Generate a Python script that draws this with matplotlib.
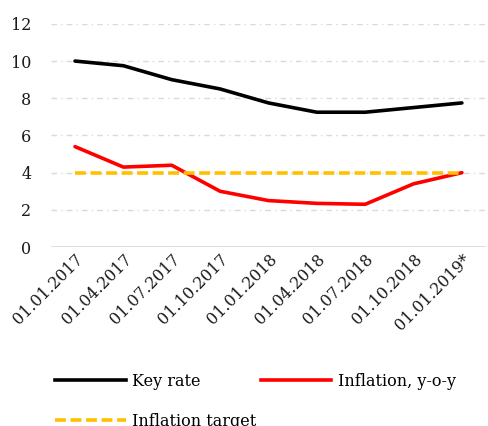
import matplotlib.pyplot as plt
from matplotlib.lines import Line2D

# Datos
fechas = ['01.01.2017', '01.04.2017', '01.07.2017', '01.10.2017', '01.01.2018',
          '01.04.2018', '01.07.2018', '01.10.2018', '01.01.2019*']
key_rate = [10, 9.75, 9, 8.5, 7.75, 7.25, 7.25, 7.5, 7.75]
inflacion = [5.4, 4.3, 4.4, 3.0, 2.5, 2.35, 2.3, 3.4, 4.0]
meta = [4, 4, 4, 4, 4, 4, 4, 4, 4]

plt.rcParams['font.family'] = ['DejaVu Serif']

fig = plt.figure(figsize=(4.89, 4.26), dpi=100)
ax = fig.add_axes([0.104, 0.42, 0.89, 0.524])

x = range(len(fechas))
ax.plot(x, key_rate, color='black', lw=2.6, solid_capstyle='round', zorder=3)
ax.plot(x, inflacion, color='#FF0000', lw=2.6, solid_capstyle='round', zorder=3)
ax.plot(x, meta, color='#FFC000', lw=2.6, dashes=(3.0, 1.3), zorder=4)

ax.set_xlim(-0.5, len(fechas) - 0.5)
ax.set_ylim(0, 12)
ax.set_yticks(range(0, 13, 2))
ax.set_xticks(list(x))
ax.set_xticklabels(fechas, rotation=45, ha='right', rotation_mode='anchor')

for y in range(2, 13, 2):
    ax.axhline(y, color='#D9D9D9', lw=1, dashes=(4, 3, 1, 3), zorder=1)
ax.axhline(0, color='#D9D9D9', lw=1.2, zorder=1)

for s in ax.spines.values():
    s.set_visible(False)
ax.tick_params(axis='both', length=0, labelsize=11.5, colors='#1a1a1a')
ax.tick_params(axis='y', pad=14)
ax.tick_params(axis='x', pad=3)

# Leyenda (orden para que quede por filas)
h = [Line2D([], [], color='black', lw=2.6),
     Line2D([], [], color='#FFC000', lw=2.6, dashes=(3.0, 1.3)),
     Line2D([], [], color='#FF0000', lw=2.6)]
etiquetas = ['Key rate', 'Inflation target', 'Inflation, y-o-y']
fig.legend(h, etiquetas, ncol=2, loc='upper left', bbox_to_anchor=(0.1, 0.14),
           frameon=False, fontsize=11.5, handlelength=4.4, handletextpad=0.4,
           columnspacing=0.3, labelspacing=1.45, borderaxespad=0)

fig.savefig('out.png', dpi=100)
